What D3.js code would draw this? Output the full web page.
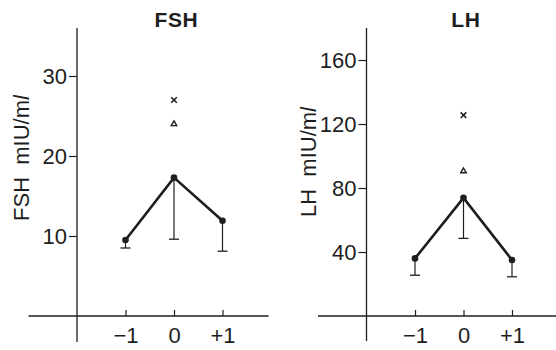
<!DOCTYPE html>
<html><head><meta charset="utf-8">
<script src="https://cdn.jsdelivr.net/npm/d3@7"></script>
<style>body{margin:0;background:#fff}svg{display:block}text{font-family:"Liberation Sans",Arial,sans-serif;fill:#1e1e1e}</style>
</head><body><svg id="c" width="556" height="350"></svg>
<script>
const days = [-1, 0, 1];
const dayLabels = ["\u22121", "0", "+1"];
const fshMean = [9.5, 17.3, 11.9];
const fshLower = [8.5, 9.6, 8.1];
const fshCross = 27;
const fshTriangle = 24;
const fshTicks = [10, 20, 30];
const lhMean = [36, 73.8, 35];
const lhLower = [25.5, 48.5, 24.5];
const lhCross = 125.5;
const lhTriangle = 90.5;
const lhTicks = [40, 80, 120, 160];

const svg = d3.select("#c");
const ink = "#1e1e1e";
const ff = '"Liberation Sans",Arial,sans-serif';

function panel(cfg) {
  const g = svg.append("g");
  const x = d3.scaleLinear().domain([-1, 1]).range([cfg.x0, cfg.x0 + 97]);
  const y = d3.scaleLinear().domain([0, cfg.yTop]).range([cfg.y0, cfg.y0 - cfg.yPix]);
  g.append("line").attr("x1", x(-2)).attr("x2", x(-2)).attr("y1", y(cfg.yMax)).attr("y2", cfg.y0 + cfg.below)
    .attr("stroke", ink).attr("stroke-width", 1.3);
  g.append("line").attr("x1", x(-3)).attr("x2", Math.min(556, x(1.95))).attr("y1", y(0)).attr("y2", y(0))
    .attr("stroke", ink).attr("stroke-width", 1.3);
  const yAx = d3.axisLeft(y).tickValues(cfg.ticks).tickSize(8).tickPadding(2);
  const ya = g.append("g").attr("transform", `translate(${x(-2)},0)`).call(yAx);
  ya.select(".domain").remove();
  ya.selectAll(".tick line").attr("stroke", ink).attr("stroke-width", 1.2);
  ya.selectAll(".tick text").attr("font-size", 22).attr("font-family", ff).attr("fill", ink);
  const xAx = d3.axisTop(x).tickValues(days).tickSize(6).tickFormat((d, i) => dayLabels[i]);
  const xa = g.append("g").attr("transform", `translate(0,${y(0)})`).call(xAx);
  xa.select(".domain").remove();
  xa.selectAll(".tick line").attr("stroke", ink).attr("stroke-width", 1.2);
  xa.selectAll(".tick text").attr("y", 27).attr("dy", 0).attr("font-size", 22)
    .attr("font-family", ff).attr("fill", ink);
  days.forEach((d, i) => {
    g.append("line").attr("x1", x(d)).attr("x2", x(d)).attr("y1", y(cfg.mean[i])).attr("y2", y(cfg.lower[i]))
      .attr("stroke", ink).attr("stroke-width", 1.2);
    g.append("line").attr("x1", x(d) - 5).attr("x2", x(d) + 5).attr("y1", y(cfg.lower[i])).attr("y2", y(cfg.lower[i]))
      .attr("stroke", ink).attr("stroke-width", 1.3);
  });
  g.append("path").datum(days.map((d, i) => [d, cfg.mean[i]]))
    .attr("d", d3.line().x(p => x(p[0])).y(p => y(p[1])))
    .attr("fill", "none").attr("stroke", ink).attr("stroke-width", 2.6);
  g.selectAll("circle.m").data(days).join("circle").attr("cx", d => x(d)).attr("cy", (d, i) => y(cfg.mean[i]))
    .attr("r", 3.3).attr("fill", ink);
  g.append("path").attr("d", d3.symbol(d3.symbolTimes, 22)())
    .attr("transform", `translate(${x(0)},${y(cfg.cross)})`).attr("fill", "none").attr("stroke", ink).attr("stroke-width", 1.6);
  g.append("path").attr("d", d3.symbol(d3.symbolTriangle2, 22)())
    .attr("transform", `translate(${x(0)},${y(cfg.tri)})`).attr("fill", "none").attr("stroke", ink).attr("stroke-width", 1.4);
  g.append("text").attr("x", x(0.05)).attr("y", 27).attr("text-anchor", "middle")
    .attr("font-size", 21).attr("font-weight", "bold").attr("letter-spacing", 0.6).text(cfg.title);
  const yl = g.append("text").attr("transform", `translate(${cfg.labelX},${cfg.labelY}) rotate(-90)`)
    .attr("text-anchor", "middle").attr("font-size", 22).style("white-space", "pre");
  yl.append("tspan").text(cfg.title + "  mIU/m");
  yl.append("tspan").attr("font-style", "italic").text("l");
}

panel({x0: 125.5, y0: 316, yTop: 10, yPix: 80, yMax: 36, below: 26, ticks: fshTicks,
  mean: fshMean, lower: fshLower, cross: fshCross, tri: fshTriangle, title: "FSH", labelX: 29, labelY: 158});
panel({x0: 415, y0: 316, yTop: 40, yPix: 64, yMax: 180, below: 25, ticks: lhTicks,
  mean: lhMean, lower: lhLower, cross: lhCross, tri: lhTriangle, title: "LH", labelX: 316, labelY: 162});
</script></body></html>
